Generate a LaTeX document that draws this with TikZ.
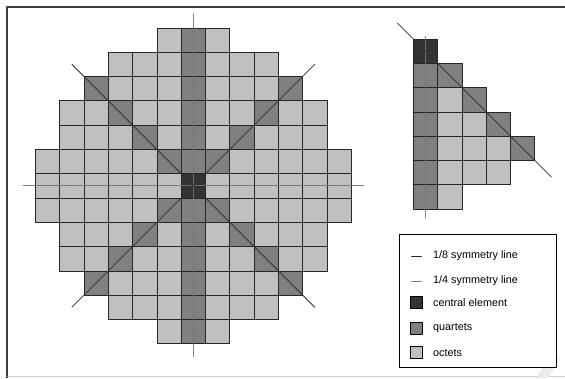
\documentclass[tikz,border=0pt]{standalone}
\usepackage{fontspec}
\setmainfont{Liberation Sans}
\usetikzlibrary{positioning}
\definecolor{gridshade0}{HTML}{C0C0C0}
\definecolor{gridshade1}{HTML}{808080}
\definecolor{gridshade2}{HTML}{333333}
\definecolor{frameInk}{HTML}{404040}
\def\cellw{24.3}

\begin{document}
\begin{tikzpicture}[x=1pt,y=-1pt,line cap=round,line join=round]
\useasboundingbox (0,0) rectangle (565,378);
\tikzset{cell/.style={draw=black!85,line width=0.7pt},octline/.style={draw=black!80,line width=0.75pt},quarterline/.style={draw=black!55,line width=0.9pt,densely dotted},swatch/.style={draw=black,line width=0.7pt,minimum size=12pt,inner sep=0pt},legendtext/.style={anchor=west,inner sep=0pt,text=black,font=\fontsize{10.8}{13}\selectfont}}
% page frame
\draw[frameInk,line width=2pt,line cap=butt] (7,378) -- (7,7) -- (565,7);
\draw[black!18,line width=1.2pt] (8,376.5) -- (565,376.5);
\path[fill=black!8] (550,356) -- (560,358) -- (548,378) -- (536,378) -- cycle;
% full core map
\begin{scope}[shift={(193.3,185.8)}]
\foreach \r/\h in {-6/1,-5/3,-4/4,-3/5,-2/5,-1/6,0/6,1/6,2/5,3/5,4/4,5/3,6/1}{
  \foreach \c in {-\h,...,\h}{
    \pgfmathtruncatemacro\kind{(\c==0 && \r==0) ? 2 : ((\c==0 || abs(\c)==abs(\r)) ? 1 : 0)}
    \path[cell,fill=gridshade\kind] ({(\c-0.5)*\cellw},{(\r-0.5)*\cellw}) rectangle ++(\cellw,\cellw);
  }
}
\draw[quarterline] (0,{-7.08*\cellw}) -- (0,{7.03*\cellw});
\draw[quarterline] ({-7*\cellw},0) -- ({7*\cellw},0);
\draw[octline] ({-5*\cellw},{-5*\cellw}) -- ({5*\cellw},{5*\cellw});
\draw[octline] ({-5*\cellw},{5*\cellw}) -- ({5*\cellw},{-5*\cellw});
\end{scope}
% one-eighth sector
\begin{scope}[shift={(413.3,39)}]
\foreach \c/\rmax in {0/6,1/6,2/5,3/5,4/4}{
  \foreach \r in {\c,...,\rmax}{
    \pgfmathtruncatemacro\kind{(\c==0 && \r==0) ? 2 : ((\c==0 || \c==\r) ? 1 : 0)}
    \path[cell,fill=gridshade\kind] ({\c*\cellw},{\r*\cellw}) rectangle ++(\cellw,\cellw);
  }
}
\draw[quarterline] ({0.5*\cellw},{-0.1*\cellw}) -- ({0.5*\cellw},{7.4*\cellw});
\draw[octline] ({-0.65*\cellw},{-0.65*\cellw}) -- ({5.68*\cellw},{5.68*\cellw});
\end{scope}
% legend
\node[draw=black,line width=0.8pt,fill=white,minimum width=157.4pt,minimum height=133pt,inner sep=0pt] (legend) at (478,300.5) {};
\draw[octline,draw=black!85] (411.5,256) -- (421.5,256);
\node[legendtext] (lgOct) at (433,256) {1/8 symmetry line};
\draw[draw=black!50,line width=0.6pt] (411.5,281) -- (421.5,281);
\node[legendtext] (lgQuart) at (433,281) {1/4 symmetry line};
\node[swatch,fill=gridshade2] (swCentral) at (416.7,302.5) {};
\node[legendtext] (lgCentral) at (433,302.5) {central element};
\node[swatch,fill=gridshade1] (swQuartet) at (416.7,328) {};
\node[legendtext] (lgQuartet) at (433,328) {quartets};
\node[swatch,fill=gridshade0] (swOctet) at (416.7,352.7) {};
\node[legendtext] (lgOctet) at (433,352.7) {octets};
\end{tikzpicture}
\end{document}
